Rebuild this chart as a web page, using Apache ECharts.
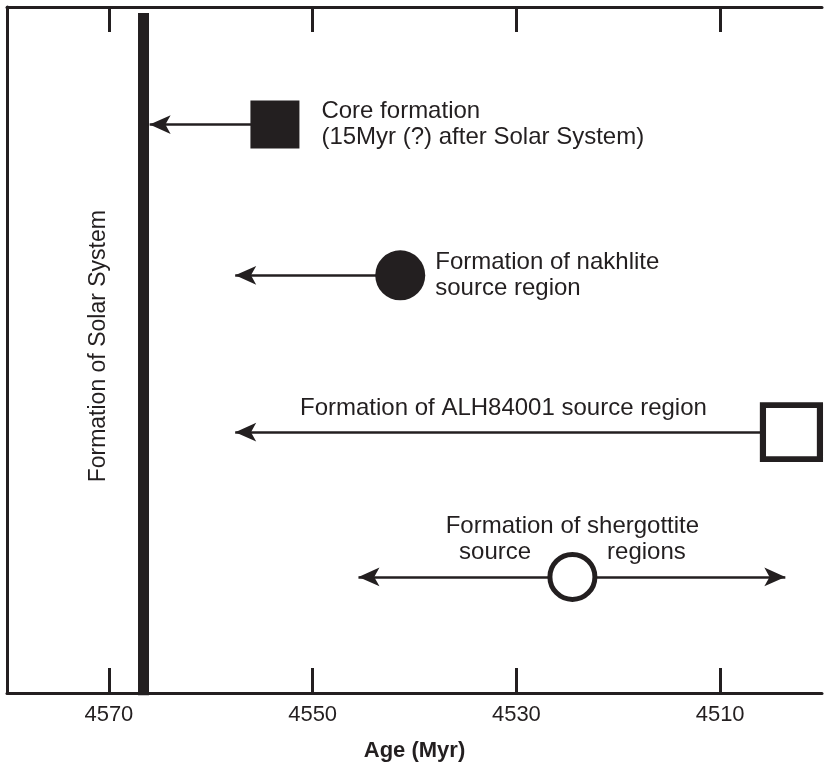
<!DOCTYPE html>
<html>
<head>
<meta charset="utf-8">
<script src="https://cdn.jsdelivr.net/npm/echarts@6/dist/echarts.min.js"></script>
<style>
  html, body { margin: 0; padding: 0; background: #fff; }
  #chart { width: 824px; height: 767px; }
</style>
</head>
<body>
<div id="chart"></div>
<script>
// Age axis (Myr), ticks and labels
const ageTicks = [4570, 4550, 4530, 4510];

// Formation of the Solar System
const solarSystemAge = 4566.6;
const solarSystemLabel = 'Formation of Solar System';

// Events: marker age, row, and arrow extent
const eventLabels = [
  'Core formation\n(15Myr (?) after Solar System)',
  'Formation of nakhlite\nsource region',
  'Formation of ALH84001 source region',
  'Formation of shergottite'
];
const eventAges = [4553.7, 4541.4, 4503.0, 4524.5];
const eventRows = [1, 2, 3.04, 4];
const arrowFrom = [4553.7, 4541.4, 4503.0, 4545.5];
const arrowTo = [4566.0, 4557.6, 4557.6, 4503.6];
const arrowBothEnds = [false, false, false, true];

const INK = '#231f20';
const FONT = '"Liberation Sans", Arial, Helvetica, sans-serif';

const markerStyles = [
  { symbol: 'rect', symbolSize: [49, 48], itemStyle: { color: INK, opacity: 1 } },
  { symbol: 'circle', symbolSize: 50, itemStyle: { color: INK, opacity: 1 } },
  { symbol: 'rect', symbolSize: [57, 54], itemStyle: { color: '#fff', borderColor: INK, borderWidth: 6, opacity: 1 } },
  { symbol: 'circle', symbolSize: 45, itemStyle: { color: '#fff', borderColor: INK, borderWidth: 5, opacity: 1 } }
];

const labelStyles = [
  { position: 'right', distance: 22, align: 'left' },
  { position: 'right', distance: 10, align: 'left' },
  { position: 'inside', offset: [-288, -24], align: 'center' },
  {
    position: 'inside', offset: [0, -38], align: 'center',
    formatter: '{t|Formation of shergottite}\n{t|source}{g|}{t|regions}',
    rich: {
      t: { fontSize: 24, fontFamily: FONT, color: INK, lineHeight: 26 },
      g: { width: 76 }
    }
  }
];

const markers = eventAges.map((age, i) => Object.assign({
  value: [age, eventRows[i]],
  label: Object.assign({
    show: true,
    formatter: eventLabels[i],
    fontSize: 24,
    lineHeight: 26,
    fontFamily: FONT,
    color: INK,
    opacity: 1
  }, labelStyles[i])
}, markerStyles[i]));

const arrows = eventRows.map((row, i) => [
  { coord: [arrowFrom[i], row], symbol: arrowBothEnds[i] ? 'arrow' : 'none' },
  { coord: [arrowTo[i], row], symbol: 'arrow' }
]);

const ageAxisBase = {
  type: 'value',
  min: 4500,
  max: 4580,
  inverse: true,
  splitLine: { show: false },
  axisLine: { show: true, lineStyle: { color: INK, width: 3 } },
  axisTick: {
    show: true, inside: true, length: 25, customValues: ageTicks,
    lineStyle: { color: INK, width: 3 }
  }
};

const chart = echarts.init(document.getElementById('chart'), null, { renderer: 'canvas' });
chart.setOption({
  backgroundColor: '#fff',
  animation: false,
  grid: { left: 7, right: 2, top: 7, bottom: 74 },
  xAxis: [
    Object.assign({}, ageAxisBase, {
      position: 'bottom',
      name: 'Age (Myr)',
      nameLocation: 'middle',
      nameGap: 47,
      nameTextStyle: { fontSize: 22, fontWeight: 'bold', fontFamily: FONT, color: INK },
      axisLabel: {
        show: true, customValues: ageTicks, margin: 11,
        formatter: v => String(v),
        fontSize: 22, fontFamily: FONT, color: INK
      }
    }),
    Object.assign({}, ageAxisBase, {
      position: 'top',
      axisLabel: { show: false }
    })
  ],
  yAxis: {
    type: 'value',
    min: 0.22,
    max: 4.77,
    inverse: true,
    splitLine: { show: false },
    axisTick: { show: false },
    axisLabel: { show: false },
    axisLine: { show: true, lineStyle: { color: INK, width: 3 } }
  },
  series: [
    {
      // Solar System formation bar
      type: 'line',
      clip: false,
      symbol: 'none',
      z: 2,
      lineStyle: { color: INK, width: 11, cap: 'butt' },
      data: [[solarSystemAge, 0.26], [solarSystemAge, 4.785]]
    },
    {
      type: 'scatter',
      symbolSize: 0,
      z: 2,
      itemStyle: { opacity: 1 },
      data: [{
        value: [solarSystemAge, 2.47],
        itemStyle: { opacity: 1 },
        label: {
          show: true, position: 'inside', rotate: 90, offset: [0, -45],
          formatter: solarSystemLabel, fontSize: 23, fontFamily: FONT, color: INK, opacity: 1
        }
      }]
    },
    {
      // Arrows
      type: 'scatter',
      data: [],
      z: 2,
      markLine: {
        silent: true,
        animation: false,
        symbolSize: [14, 21],
        label: { show: false },
        lineStyle: { color: INK, width: 2.5, type: 'solid', opacity: 1 },
        itemStyle: { color: INK },
        emphasis: { disabled: true },
        data: arrows
      }
    },
    {
      // Event markers
      type: 'scatter',
      z: 5,
      silent: true,
      itemStyle: { opacity: 1 },
      data: markers
    }
  ]
});
</script>
</body>
</html>
